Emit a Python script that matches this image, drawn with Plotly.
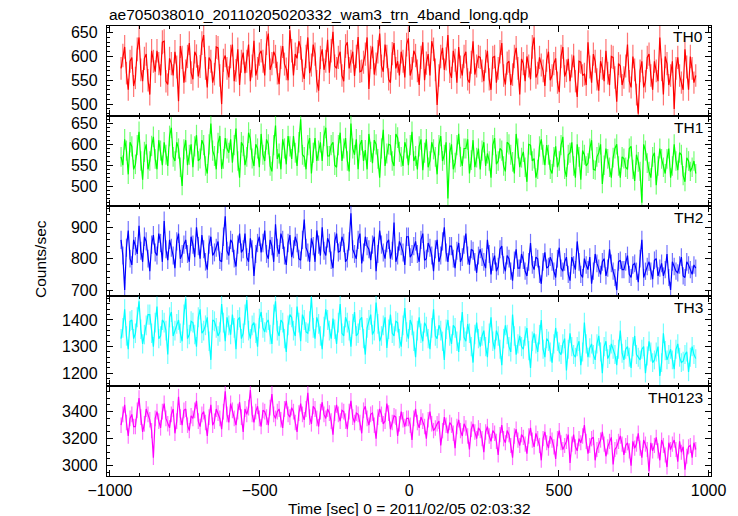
import numpy as np
import plotly.graph_objects as go

TITLE = "ae705038010_20110205020332_wam3_trn_4band_long.qdp"
X_TITLE = "Time [sec] 0 = 2011/02/05 02:03:32"
Y_TITLE = "Counts/sec"
T_START = -963
BIN_SEC = 6
BANDS = ["TH0", "TH1", "TH2", "TH3", "TH0123"]

# even bins (t = T_START + 12*i)
TH0_A = [575, 620, 530, 598, 555, 640, 548, 605, 520, 590, 612, 560, 632, 541, 585, 610, 506, 598, 570, 628,
         552, 601, 579, 645, 535, 590, 563, 618, 500, 602, 556, 625, 571, 540, 608, 590, 548, 633, 575, 612,
         560, 648, 585, 600, 542, 622, 574, 655, 560, 596, 618, 553, 640, 582, 605, 528, 615, 590, 566, 652,
         575, 610, 548, 630, 590, 559, 641, 570, 605, 532, 621, 584, 648, 568, 600, 545, 628, 590, 610, 556,
         638, 575, 602, 540, 630, 586, 560, 615, 498, 600, 572, 645, 555, 592, 620, 560, 610, 545, 632, 580,
         598, 548, 612, 530, 600, 575, 628, 541, 590, 562, 618, 520, 585, 600, 552, 640, 565, 582, 538, 610,
         560, 596, 525, 620, 570, 548, 602, 515, 588, 563, 630, 545, 590, 528, 575, 612, 540, 598, 505, 580,
         556, 625, 535, 572, 480, 590, 548, 605, 530, 570, 640, 520, 585, 560, 490, 598, 545, 615, 530, 575, 560]
# odd bins (t = T_START + 6 + 12*i)
TH0_B = [602, 565, 590, 538, 615, 572, 596, 550, 612, 568, 585, 630, 548, 596, 560, 578, 622, 545, 600, 566,
         610, 558, 628, 575, 598, 545, 620, 560, 592, 575, 600, 548, 615, 590, 565, 625, 580, 560, 605, 590,
         628, 572, 610, 565, 598, 584, 550, 612, 605, 632, 570, 600, 565, 625, 548, 598, 572, 635, 612, 580,
         598, 560, 622, 575, 610, 600, 568, 588, 640, 598, 562, 610, 580, 625, 552, 606, 575, 560, 590, 625,
         560, 612, 570, 598, 550, 605, 632, 572, 560, 618, 595, 568, 612, 545, 578, 600, 552, 588, 562, 600,
         570, 590, 552, 598, 545, 610, 560, 586, 540, 600, 575, 595, 548, 580, 620, 556, 598, 570, 592, 550,
         585, 545, 600, 558, 595, 580, 548, 590, 560, 540, 578, 605, 552, 590, 548, 565, 600, 556, 585, 540,
         580, 548, 600, 520, 570, 535, 598, 560, 590, 548, 572, 600, 540, 590, 575, 560, 530, 578, 600, 545]

TH1_A = [570, 612, 528, 595, 552, 630, 515, 600, 560, 618, 540, 585, 605, 548, 640, 560, 590, 500, 610, 575,
         545, 622, 566, 598, 530, 650, 572, 603, 541, 615, 580, 556, 638, 520, 596, 570, 612, 548, 590, 625,
         560, 600, 535, 645, 578, 612, 552, 595, 620, 548, 660, 570, 598, 530, 615, 585, 560, 640, 572, 605,
         545, 628, 590, 560, 650, 575, 540, 610, 586, 625, 555, 600, 520, 635, 578, 598, 548, 616, 570, 605,
         550, 630, 572, 595, 538, 612, 560, 588, 528, 620, 575, 470, 600, 556, 625, 548, 590, 530, 610, 568,
         540, 605, 578, 520, 615, 560, 585, 535, 600, 558, 625, 545, 582, 510, 598, 566, 540, 612, 550, 575,
         530, 595, 560, 618, 522, 580, 548, 600, 515, 575, 555, 610, 538, 580, 505, 590, 545, 568, 600, 520,
         566, 540, 595, 512, 558, 460, 585, 535, 570, 502, 590, 545, 565, 520, 600, 538, 575, 510, 560, 545, 530]
TH1_B = [550, 585, 605, 540, 598, 560, 582, 540, 596, 565, 610, 550, 575, 620, 570, 605, 545, 588, 550, 600,
         595, 560, 610, 548, 600, 585, 540, 620, 565, 590, 612, 598, 560, 605, 550, 628, 566, 600, 545, 575,
         612, 548, 598, 565, 540, 590, 620, 565, 580, 605, 575, 540, 615, 580, 560, 605, 620, 572, 598, 550,
         598, 560, 615, 535, 590, 612, 598, 560, 540, 582, 610, 565, 590, 548, 600, 560, 625, 582, 548, 590,
         598, 560, 540, 612, 580, 545, 605, 570, 598, 560, 605, 580, 540, 598, 570, 590, 612, 562, 545, 590,
         585, 548, 560, 598, 552, 590, 548, 605, 575, 530, 590, 568, 545, 600, 560, 520, 595, 575, 598, 540,
         570, 545, 598, 540, 575, 605, 520, 570, 585, 548, 590, 540, 570, 600, 550, 565, 520, 590, 548, 570,
         545, 590, 540, 575, 535, 600, 555, 520, 580, 548, 565, 530, 590, 548, 560, 580, 525, 568, 535, 560]

TH2_A = [860, 700, 890, 780, 840, 905, 790, 855, 760, 875, 810, 850, 920, 795, 835, 770, 880, 815, 860, 790,
         845, 900, 800, 830, 765, 870, 820, 855, 790, 935, 810, 850, 775, 880, 830, 805, 865, 745, 850, 820,
         890, 800, 840, 910, 815, 860, 780, 875, 830, 850, 795, 925, 820, 865, 790, 845, 900, 810, 850, 770,
         880, 825, 850, 800, 945, 815, 860, 785, 870, 830, 845, 760, 890, 820, 850, 800, 915, 810, 840, 780,
         870, 815, 855, 790, 880, 800, 835, 760, 860, 810, 900, 790, 840, 770, 850, 805, 880, 780, 825, 755,
         830, 790, 860, 750, 810, 775, 840, 760, 800, 730, 830, 770, 795, 745, 850, 765, 800, 720, 820, 775,
         790, 740, 835, 760, 805, 730, 780, 855, 750, 800, 765, 720, 815, 770, 790, 745, 830, 760, 700, 795,
         765, 810, 740, 785, 725, 860, 760, 790, 735, 800, 770, 745, 815, 700, 775, 755, 805, 740, 780, 750, 770]
TH2_B = [810, 835, 800, 860, 815, 825, 870, 800, 845, 820, 880, 790, 830, 860, 810, 855, 800, 845, 815, 870,
         805, 840, 875, 790, 845, 810, 835, 795, 870, 825, 860, 800, 845, 820, 880, 790, 830, 815, 870, 850,
         815, 860, 790, 835, 880, 810, 850, 805, 870, 800, 860, 835, 790, 840, 890, 810, 825, 865, 795, 855,
         820, 870, 790, 855, 830, 800, 880, 820, 840, 795, 870, 815, 845, 800, 860, 825, 790, 855, 820, 870,
         805, 840, 815, 860, 795, 850, 810, 830, 790, 855, 820, 840, 800, 825, 790, 845, 810, 830, 790, 810,
         805, 770, 815, 790, 760, 830, 780, 810, 760, 795, 770, 815, 760, 790, 780, 805, 750, 790, 770, 805,
         760, 800, 770, 790, 750, 805, 765, 790, 740, 780, 805, 760, 785, 750, 800, 770, 785, 740, 790, 765,
         790, 750, 780, 760, 800, 740, 775, 760, 795, 745, 785, 765, 740, 790, 760, 780, 745, 790, 765, 780]

TH3_A = [1330, 1440, 1290, 1400, 1350, 1470, 1310, 1380, 1420, 1300, 1450, 1340, 1390, 1270, 1430, 1360, 1400, 1320, 1480, 1345,
         1390, 1300, 1440, 1360, 1410, 1250, 1395, 1340, 1460, 1320, 1380, 1420, 1290, 1410, 1350, 1475, 1330, 1390, 1300, 1430,
         1355, 1400, 1310, 1470, 1340, 1390, 1280, 1420, 1360, 1450, 1320, 1400, 1350, 1485, 1330, 1385, 1290, 1440, 1360, 1405,
         1310, 1460, 1340, 1390, 1300, 1430, 1350, 1410, 1270, 1400, 1345, 1465, 1320, 1380, 1295, 1420, 1340, 1390, 1300, 1445,
         1330, 1380, 1260, 1410, 1320, 1375, 1290, 1440, 1330, 1360, 1250, 1400, 1310, 1370, 1280, 1430, 1320, 1350, 1240, 1390,
         1300, 1360, 1260, 1410, 1290, 1340, 1230, 1380, 1300, 1420, 1270, 1340, 1290, 1370, 1220, 1350, 1280, 1400, 1260, 1320,
         1240, 1370, 1280, 1310, 1210, 1350, 1270, 1300, 1230, 1390, 1260, 1310, 1250, 1340, 1200, 1320, 1270, 1290, 1230, 1360,
         1250, 1300, 1220, 1340, 1260, 1290, 1200, 1320, 1240, 1280, 1190, 1350, 1250, 1290, 1215, 1310, 1240, 1270, 1205, 1300, 1255]
TH3_B = [1370, 1340, 1395, 1330, 1410, 1365, 1345, 1420, 1350, 1390, 1330, 1400, 1360, 1410, 1340, 1385, 1350, 1420, 1330, 1395,
         1345, 1410, 1350, 1380, 1320, 1400, 1370, 1355, 1390, 1410, 1345, 1370, 1400, 1330, 1420, 1360, 1380, 1350, 1405, 1370,
         1390, 1345, 1420, 1360, 1400, 1330, 1380, 1410, 1340, 1390, 1420, 1355, 1395, 1370, 1410, 1340, 1375, 1400, 1330, 1365,
         1390, 1350, 1410, 1360, 1385, 1340, 1400, 1330, 1370, 1420, 1360, 1385, 1340, 1410, 1365, 1350, 1395, 1330, 1380, 1355,
         1400, 1320, 1360, 1350, 1390, 1330, 1370, 1340, 1380, 1320, 1365, 1340, 1380, 1320, 1360, 1335, 1385, 1300, 1345, 1330,
         1340, 1300, 1350, 1320, 1360, 1290, 1330, 1345, 1280, 1340, 1310, 1300, 1340, 1285, 1320, 1310, 1345, 1290, 1330, 1280,
         1310, 1320, 1270, 1330, 1290, 1300, 1260, 1320, 1280, 1310, 1295, 1270, 1310, 1280, 1300, 1255, 1310, 1270, 1290, 1275,
         1290, 1260, 1300, 1270, 1250, 1300, 1265, 1280, 1250, 1300, 1240, 1285, 1270, 1250, 1290, 1260, 1245, 1280, 1260, 1270]

TH0123_A = [3300, 3450, 3220, 3380, 3290, 3500, 3250, 3420, 3340, 3060, 3400, 3280, 3460, 3310, 3380, 3240, 3510, 3300, 3420, 3260,
            3350, 3480, 3290, 3400, 3220, 3450, 3330, 3390, 3270, 3550, 3320, 3410, 3300, 3470, 3250, 3380, 3560, 3320, 3440, 3290,
            3400, 3300, 3530, 3350, 3420, 3280, 3480, 3360, 3400, 3250, 3460, 3340, 3540, 3310, 3420, 3290, 3470, 3350, 3390, 3230,
            3450, 3330, 3400, 3270, 3480, 3320, 3380, 3240, 3440, 3300, 3390, 3200, 3420, 3310, 3460, 3270, 3370, 3220, 3400, 3290,
            3350, 3190, 3420, 3280, 3330, 3200, 3400, 3260, 3310, 3150, 3360, 3240, 3300, 3130, 3340, 3220, 3280, 3120, 3310, 3200,
            3260, 3100, 3290, 3180, 3240, 3080, 3300, 3170, 3230, 3060, 3270, 3150, 3210, 3090, 3280, 3140, 3200, 3040, 3250, 3130,
            3190, 3050, 3260, 3120, 3180, 3020, 3230, 3110, 3170, 3300, 3090, 3200, 3040, 3150, 3250, 3070, 3180, 3010, 3140, 3220,
            3080, 3170, 3000, 3130, 3240, 3060, 3160, 2960, 3110, 3210, 3040, 3150, 2990, 3120, 3190, 3030, 3100, 2970, 3140, 3060, 3120]
TH0123_B = [3380, 3320, 3350, 3290, 3410, 3360, 3310, 3380, 3260, 3350, 3330, 3400, 3350, 3280, 3420, 3330, 3360, 3410, 3300, 3370,
            3410, 3330, 3380, 3320, 3360, 3300, 3420, 3350, 3400, 3380, 3460, 3350, 3400, 3360, 3420, 3430, 3380, 3400, 3350, 3410,
            3360, 3430, 3380, 3400, 3340, 3420, 3380, 3430, 3320, 3390, 3380, 3420, 3360, 3440, 3350, 3400, 3380, 3420, 3330, 3390,
            3380, 3410, 3330, 3400, 3360, 3390, 3320, 3410, 3350, 3380, 3300, 3360, 3380, 3330, 3390, 3320, 3360, 3310, 3340, 3350,
            3300, 3350, 3320, 3360, 3290, 3340, 3310, 3280, 3330, 3260, 3300, 3320, 3240, 3290, 3260, 3310, 3220, 3270, 3250, 3280,
            3200, 3250, 3220, 3260, 3180, 3230, 3200, 3260, 3150, 3220, 3190, 3230, 3160, 3220, 3190, 3240, 3150, 3200, 3170, 3220,
            3140, 3200, 3170, 3150, 3230, 3160, 3140, 3200, 3220, 3180, 3150, 3210, 3120, 3190, 3160, 3140, 3210, 3120, 3180, 3160,
            3150, 3110, 3180, 3160, 3130, 3190, 3120, 3170, 3150, 3110, 3190, 3080, 3170, 3160, 3120, 3180, 3140, 3070, 3150, 3170]

SERIES = [(TH0_A, TH0_B), (TH1_A, TH1_B), (TH2_A, TH2_B), (TH3_A, TH3_B), (TH0123_A, TH0123_B)]
COLORS = ["#ff0000", "#00ff00", "#0000ff", "#00ffff", "#ff00ff"]
ERR_COLORS = ["rgba(255,0,0,0.55)", "rgba(0,255,0,0.55)", "rgba(0,0,255,0.55)",
              "rgba(0,255,255,0.55)", "rgba(255,0,255,0.55)"]
Y_RANGES = [[475, 664], [452, 668], [681, 968], [1152, 1490], [2924, 3590]]
Y_DTICK = [50, 50, 100, 100, 200]
Y_MINOR = [10, 10, 20, 20, 50]

FONT = "Liberation Sans, Arial, Helvetica, sans-serif"
W, H = 738, 516
L, R, T, B = 107, 711, 26, 476


def merge(a, b):
    out = np.empty(len(a) + len(b), dtype=float)
    out[0::2] = a
    out[1::2] = b
    return out


fig = go.Figure()
n = len(SERIES)
h = 1.0 / n
layout = {}
annotations = []
for i, (name, (va, vb), col, ecol) in enumerate(zip(BANDS, SERIES, COLORS, ERR_COLORS)):
    v = merge(va, vb)
    t = T_START + BIN_SEC * np.arange(len(v))
    sfx = "" if i == 0 else str(i + 1)
    fig.add_trace(go.Scatter(
        x=t, y=v, mode="lines", line=dict(color=col, width=1.2),
        error_y=dict(type="data", array=np.sqrt(v), color=ecol, thickness=1.2, width=0),
        xaxis="x" + sfx, yaxis="y" + sfx, showlegend=False, hoverinfo="skip"))
    layout["xaxis" + sfx] = dict(
        domain=[0, 1], anchor="y" + sfx, range=[-1010, 1008],
        ticks="inside", ticklen=6, tickwidth=1, tickcolor="black",
        showline=True, linecolor="black", linewidth=1.2, mirror="ticks",
        tick0=0, dtick=500, showgrid=False, zeroline=False,
        minor=dict(dtick=100, ticklen=3, ticks="inside", tickcolor="black", showgrid=False),
        showticklabels=(i == n - 1),
        tickfont=dict(family=FONT, size=16, color="black"),
        ticklabelstandoff=0,
    )
    if i != n - 1:
        layout["xaxis" + sfx]["matches"] = "x" + str(n)
    layout["yaxis" + sfx] = dict(
        domain=[1 - (i + 1) * h, 1 - i * h], anchor="x" + sfx, range=Y_RANGES[i],
        ticks="inside", ticklen=6, tickwidth=1, tickcolor="black",
        showline=True, linecolor="black", linewidth=1.2, mirror="ticks",
        tick0=0, dtick=Y_DTICK[i], showgrid=False, zeroline=False,
        minor=dict(dtick=Y_MINOR[i], ticklen=3, ticks="inside", tickcolor="black", showgrid=False),
        tickfont=dict(family=FONT, size=16, color="black"),
        ticklabelstandoff=5,
    )
    top_px = T + (B - T) * h * i
    annotations.append(dict(
        text=name, xref="paper", yref="paper",
        x=(705 - L) / (R - L), y=(B - (top_px + 0.5)) / (B - T),
        xanchor="right", yanchor="top", showarrow=False,
        font=dict(family=FONT, size=15.5, color="black")))

annotations.append(dict(text=TITLE, xref="paper", yref="paper",
                        x=0, y=(B - 14) / (B - T), xanchor="left", yanchor="middle",
                        showarrow=False, font=dict(family=FONT, size=15.5, color="black")))
annotations.append(dict(text=X_TITLE, xref="paper", yref="paper",
                        x=0.5, y=(B - 509) / (B - T), xanchor="center", yanchor="middle",
                        showarrow=False, font=dict(family=FONT, size=15.5, color="black")))
annotations.append(dict(text=Y_TITLE, xref="paper", yref="paper",
                        x=(40 - L) / (R - L), y=(B - 259) / (B - T), xanchor="center", yanchor="middle",
                        textangle=-90, showarrow=False, font=dict(family=FONT, size=15.5, color="black")))

fig.update_layout(
    width=W, height=H,
    margin=dict(l=L, r=W - R, t=T, b=H - B, pad=0),
    paper_bgcolor="white", plot_bgcolor="white",
    annotations=annotations,
    **layout,
)
fig.write_html("out.html",
               config={"displayModeBar": False, "staticPlot": True},
               post_script="document.body.style.margin='0';document.body.style.padding='0';"
                           "document.body.style.overflow='hidden';")
